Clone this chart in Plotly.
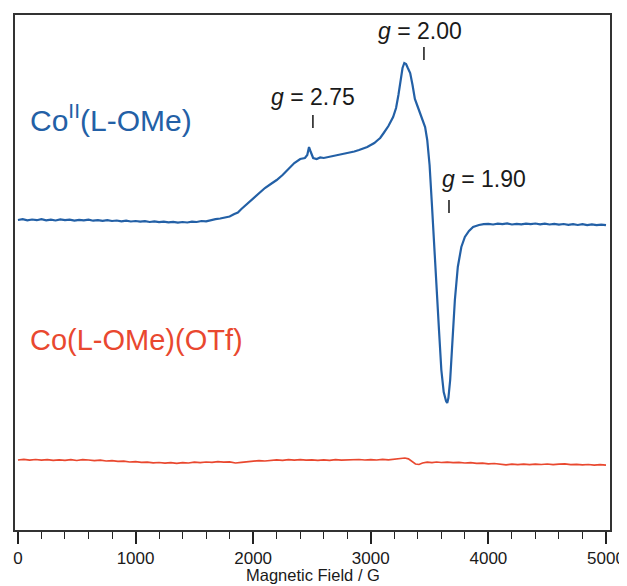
import plotly.graph_objects as go

# ---- data (arbitrary intensity units) ----
blue_field = [0, 40, 80, 120, 160, 200, 240, 280, 320, 360, 400, 440, 480, 520, 560, 600, 640, 680, 720, 760,
              800, 840, 880, 920, 960, 1000, 1040, 1080, 1120, 1160, 1200, 1240, 1280, 1320, 1360, 1400, 1440,
              1480, 1520, 1560, 1600, 1640, 1680, 1720, 1760, 1800, 1840, 1870, 1900, 1950, 2000, 2050, 2100,
              2150, 2200, 2250, 2300, 2350, 2400, 2440, 2460, 2475, 2490, 2510, 2540, 2570, 2600, 2640, 2680,
              2720, 2750, 2790, 2820, 2860, 2900, 2940, 2970, 3000, 3030, 3060, 3080, 3110, 3150, 3190, 3215,
              3235, 3255, 3270, 3285, 3300, 3315, 3335, 3355, 3375, 3400, 3420, 3445, 3462, 3480, 3500, 3520,
              3540, 3560, 3580, 3600, 3620, 3640, 3650, 3660, 3675, 3690, 3715, 3740, 3770, 3800, 3835, 3870,
              3920, 3960, 4000, 4040, 4080, 4120, 4160, 4200, 4240, 4280, 4320, 4360, 4400, 4440, 4480, 4520,
              4560, 4600, 4640, 4680, 4720, 4760, 4800, 4840, 4880, 4920, 4960, 5000]
blue_signal = [310.0, 310.8, 309.6, 310.5, 309.8, 310.9, 309.7, 310.4, 309.5, 310.6, 309.8, 310.3, 309.4, 310.2,
               309.6, 310.4, 309.3, 309.9, 309.2, 309.8, 309.0, 309.5, 308.7, 309.3, 308.5, 309.0, 308.3, 308.8,
               308.0, 308.6, 307.8, 308.3, 307.6, 308.1, 307.3, 308.0, 307.5, 308.4, 308.0, 309.0, 308.6, 310.0,
               310.8, 311.5, 312.2, 313.5, 316.0, 317.5, 321.0, 326.5, 332.0, 337.0, 342.0, 346.0, 350.0, 355.0,
               361.5, 367.0, 371.0, 372.0, 375.0, 383.0, 378.0, 372.0, 371.0, 372.5, 372.0, 373.0, 373.5, 374.5,
               375.0, 376.0, 377.0, 378.5, 380.0, 381.5, 383.0, 385.0, 387.0, 390.0, 392.0, 397.0, 404.0, 413.0,
               422.0, 435.0, 452.0, 462.0, 467.0, 466.0, 462.0, 457.0, 445.0, 431.0, 423.0, 417.0, 410.0, 403.0,
               390.0, 365.0, 325.0, 280.0, 235.0, 200.0, 160.0, 138.0, 129.0, 127.0, 132.0, 150.0, 180.0, 230.0,
               263.0, 283.0, 293.0, 299.0, 303.0, 305.0, 305.8, 306.2, 305.5, 306.4, 305.8, 306.6, 305.5, 306.2,
               305.6, 306.4, 305.8, 306.5, 305.6, 306.3, 305.5, 306.2, 305.4, 306.0, 305.2, 305.9, 305.0, 305.8,
               304.9, 305.6, 304.8, 305.4, 304.8]

red_field = [0, 50, 100, 150, 200, 250, 300, 350, 400, 450, 500, 550, 600, 650, 700, 750, 800, 850, 900, 950,
             1000, 1050, 1100, 1150, 1200, 1250, 1300, 1350, 1400, 1450, 1500, 1550, 1600, 1650, 1700, 1750,
             1800, 1850, 1900, 1950, 2000, 2050, 2100, 2150, 2200, 2250, 2300, 2350, 2400, 2450, 2500, 2550,
             2600, 2650, 2700, 2750, 2800, 2850, 2900, 2950, 3000, 3050, 3100, 3150, 3200, 3250, 3290, 3320,
             3350, 3380, 3410, 3440, 3480, 3520, 3560, 3600, 3650, 3700, 3750, 3800, 3850, 3900, 3950, 4000,
             4050, 4100, 4150, 4200, 4250, 4300, 4350, 4400, 4450, 4500, 4550, 4600, 4650, 4700, 4750, 4800,
             4850, 4900, 4950, 5000]
red_signal = [70.0, 70.6, 69.8, 70.5, 69.9, 70.4, 69.6, 70.2, 69.7, 70.3, 69.5, 70.4, 70.0, 69.4, 69.8, 69.0,
              69.4, 68.6, 68.8, 68.0, 68.4, 67.6, 67.9, 67.2, 67.5, 66.8, 67.3, 66.6, 67.4, 67.0, 67.8, 67.3,
              68.0, 67.6, 68.3, 67.8, 68.1, 67.0, 67.6, 68.3, 68.8, 69.4, 69.0, 69.8, 70.2, 69.7, 70.3, 69.8,
              70.4, 69.9, 70.2, 69.6, 70.1, 69.7, 70.3, 69.8, 70.2, 69.9, 70.5, 70.0, 70.4, 70.0, 70.6, 70.1,
              70.8, 71.5, 72.0, 71.2, 68.5, 66.0, 65.5, 67.0, 67.8, 67.4, 68.0, 67.5, 67.9, 67.3, 67.6, 67.0,
              67.3, 66.6, 66.9, 66.2, 66.5, 65.8, 65.2, 65.8, 65.4, 65.9, 65.3, 65.8, 65.5, 66.0, 65.4, 65.9,
              66.2, 65.4, 65.7, 65.1, 65.5, 64.9, 65.3, 64.8]

x_ticks = [0, 1000, 2000, 3000, 4000, 5000]
g_labels = ["2.75", "2.00", "1.90"]
g_fields = [2508, 3452, 3665]

BLUE = "#2360a6"
RED = "#e9482f"
FRAME = "#333333"
FONT = "Liberation Sans, Arial, Helvetica, sans-serif"

fig = go.Figure()
fig.add_trace(go.Scatter(x=blue_field, y=blue_signal, mode="lines",
                         line=dict(color=BLUE, width=2.2), showlegend=False, hoverinfo="skip"))
fig.add_trace(go.Scatter(x=red_field, y=red_signal, mode="lines",
                         line=dict(color=RED, width=1.7), showlegend=False, hoverinfo="skip"))

# g-value labels and their small marker lines
label_specs = [  # (text y, tick y0, tick y1, x shift of text, xanchor)
    (433, 402, 415, 0, "center"),
    (499, 470, 483, -30, "center"),
    (351, 317, 330, -80, "left"),
]
for (lab, fld, spec) in zip(g_labels, g_fields, label_specs):
    ty, y0, y1, dx, xa = spec
    fig.add_shape(type="line", x0=fld, x1=fld, y0=y0, y1=y1, xref="x", yref="y",
                  line=dict(color="#222222", width=1.6))
    fig.add_annotation(x=fld + dx, y=ty, xref="x", yref="y", text="<i>g</i> = " + lab,
                       showarrow=False, xanchor=xa, yanchor="middle",
                       font=dict(family=FONT, size=23, color="#1a1a1a"))

fig.add_annotation(x=85, y=412, xref="x", yref="y", text="Co<sup>II</sup>(L-OMe)",
                   showarrow=False, xanchor="left", yanchor="middle",
                   font=dict(family=FONT, size=30, color=BLUE))
fig.add_annotation(x=85, y=190, xref="x", yref="y", text="Co(L-OMe)(OTf)",
                   showarrow=False, xanchor="left", yanchor="middle",
                   font=dict(family=FONT, size=29, color=RED))

# x-axis title placed just under the tick labels
fig.add_annotation(x=0.5, y=-0.088, xref="paper", yref="paper", text="Magnetic Field / G",
                   showarrow=False, xanchor="center", yanchor="middle",
                   font=dict(family=FONT, size=16.5, color="#1a1a1a"))

# the page body adds an 8 px offset, so margins are reduced by 8 px on the left/top
fig.update_layout(
    width=627, height=586,
    margin=dict(l=7, r=25, t=7, b=64, autoexpand=False),
    paper_bgcolor="white", plot_bgcolor="white",
    font=dict(family=FONT, color="#1a1a1a"),
    xaxis=dict(range=[-25, 5034], showgrid=False, zeroline=False, automargin=False,
               showline=True, mirror=True, linecolor=FRAME, linewidth=2,
               ticks="outside", ticklen=12, tickwidth=1.6, tickcolor="#222222",
               tickvals=x_ticks, ticktext=[str(v) for v in x_ticks],
               tickfont=dict(size=17, family=FONT, color="#1a1a1a"),
               minor=dict(dtick=200, ticks="outside", ticklen=7, tickwidth=1.4, tickcolor="#222222", showgrid=False)),
    yaxis=dict(range=[0, 515], showgrid=False, zeroline=False, showticklabels=False, automargin=False,
               showline=True, mirror=True, linecolor=FRAME, linewidth=2, ticks=""),
)

fig.write_html("out.html")
